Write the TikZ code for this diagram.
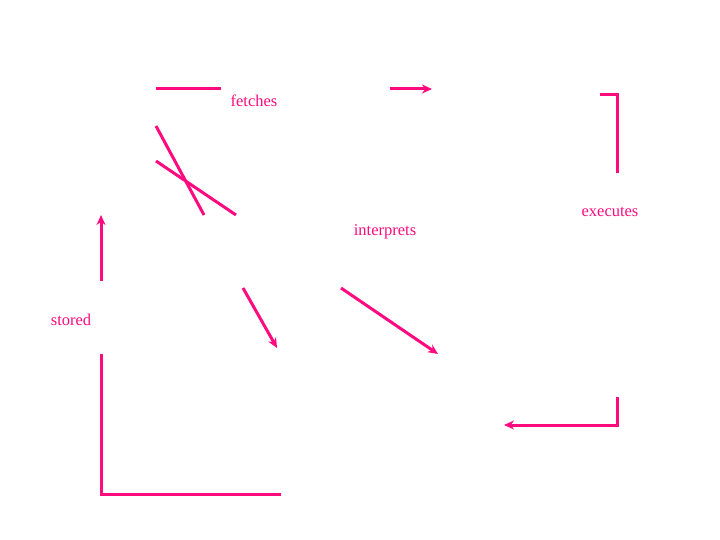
\documentclass[tikz,border=0pt]{standalone}
\usepackage{fontspec}
\setmainfont{Liberation Serif}
\usetikzlibrary{arrows.meta}
\definecolor{pinkc}{HTML}{FF0A7F}
\tikzset{
  conn/.style={draw=pinkc, line width=3pt},
  arr/.style={conn, -{Stealth[length=10pt,width=9pt]}},
  lab/.style={text=pinkc, font=\fontsize{16.5}{18}\selectfont, inner sep=0pt}
}
\begin{document}
\begin{tikzpicture}[x=1pt,y=-1pt]
\useasboundingbox (0,0) rectangle (720,540);
% labels
\node[lab] (fetches) at (254,101) {fetches};
\node[lab] (executes) at (610,212) {executes};
\node[lab] (interprets) at (385,232) {interprets};
\node[lab] (stored) at (71,320) {stored};
% coordinates
\coordinate (a1) at (156,89); \coordinate (a2) at (221,89);
\coordinate (b1) at (390,89); \coordinate (b2) at (432,89);
\coordinate (c1) at (600,95); \coordinate (c2) at (617,95); \coordinate (c3) at (617,173);
\coordinate (d1) at (617,397); \coordinate (d2) at (617,425); \coordinate (d3) at (504,425);
\coordinate (e1) at (101,354); \coordinate (e2) at (101,494); \coordinate (e3) at (281,494);
\coordinate (f1) at (101,281); \coordinate (f2) at (101,215);
\coordinate (g1) at (156,126); \coordinate (g2) at (204,215);
\coordinate (h1) at (156,161); \coordinate (h2) at (236,215);
\coordinate (i1) at (243,288); \coordinate (i2) at (277,348);
\coordinate (j1) at (341,288); \coordinate (j2) at (438,354);
% connectors
\draw[conn] (a1) -- (a2);
\draw[arr] (b1) -- (b2);
\draw[conn] (c1) -- (c2) -- (c3);
\draw[arr] (d1) -- (d2) -- (d3);
\draw[conn] (e1) -- (e2) -- (e3);
\draw[arr] (f1) -- (f2);
\draw[conn] (g1) -- (g2);
\draw[conn] (h1) -- (h2);
\draw[arr] (i1) -- (i2);
\draw[arr] (j1) -- (j2);
\end{tikzpicture}
\end{document}
